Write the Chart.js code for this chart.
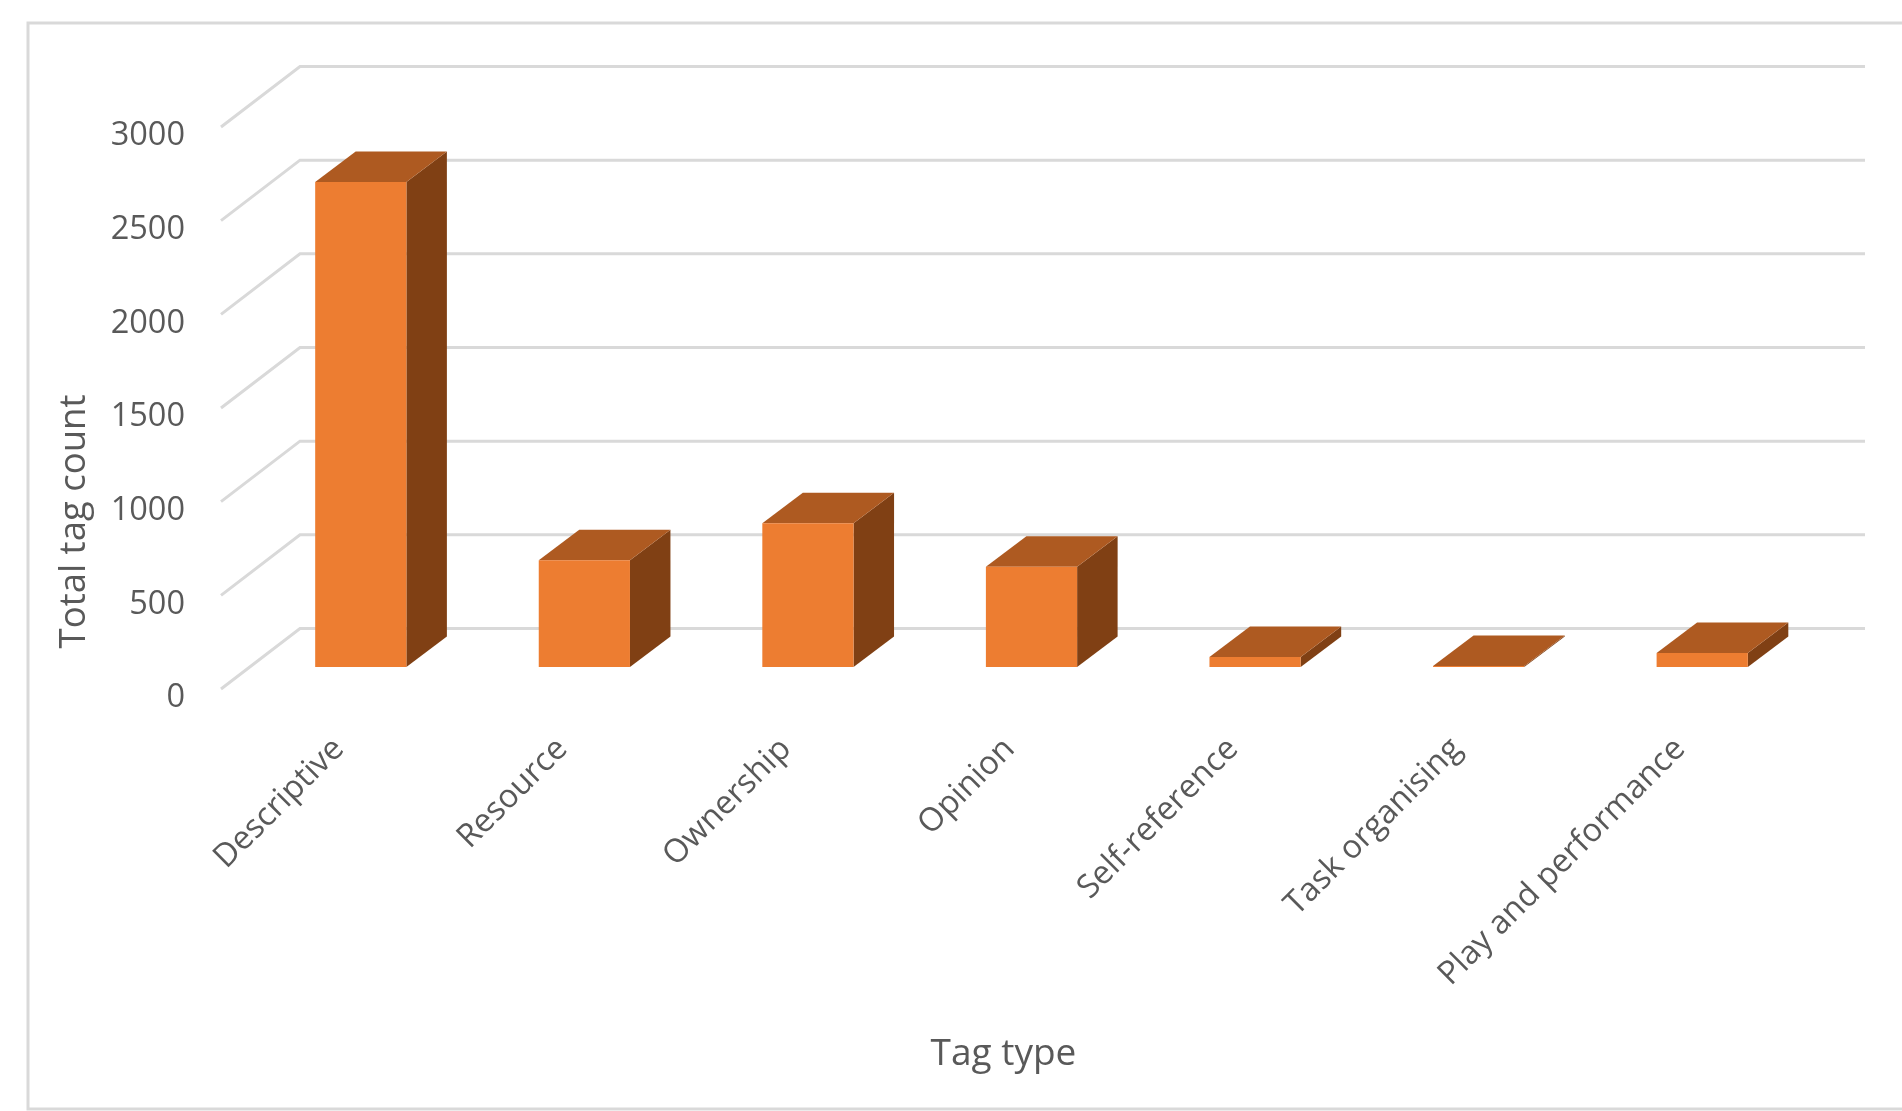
<!DOCTYPE html>
<html>
<head>
<meta charset="utf-8">
<title>Total tag count by tag type</title>
<script src="https://cdn.jsdelivr.net/npm/chart.js@4"></script>
<style>
    html, body { margin: 0; padding: 0; background: #ffffff; overflow: hidden; }
    canvas { display: block; }
</style>
</head>
<body>
<canvas id="tagChart" width="1902" height="1111"></canvas>
<script>
const categories = ['Descriptive', 'Resource', 'Ownership', 'Opinion', 'Self-reference', 'Task organising', 'Play and performance'];
const tagCounts = [2589, 570, 768, 535, 54, 5, 75];
const valueTicks = [0, 500, 1000, 1500, 2000, 2500, 3000];

const FONT = '"Open Sans", sans-serif';
const TEXT = '#595959';
const GRID = '#d9d9d9';
const FRONT = '#ed7d31';
const TOP = '#ae5a21';
const SIDE = '#804014';

// fake 3d: floor depth, where the bars stand on the floor, depth of a bar
const floorDepth = { x: 79, y: 60.5 };
const barShift = { x: 28, y: 22 };
const barDepth = { x: 40.5, y: 30.5 };

function poly(ctx, pts, color) {
    ctx.fillStyle = color;
    ctx.beginPath();
    pts.forEach((p, i) => i ? ctx.lineTo(p[0], p[1]) : ctx.moveTo(p[0], p[1]));
    ctx.closePath();
    ctx.fill();
}

const frame3d = {
    id: 'frame3d',
    beforeDatasetsDraw(chart) {
        const ctx = chart.ctx;
        const area = chart.chartArea;
        const yScale = chart.scales.y;

        // outer border, open on the right
        ctx.save();
        ctx.strokeStyle = GRID;
        ctx.lineWidth = 3;
        ctx.beginPath();
        ctx.moveTo(1902, 23);
        ctx.lineTo(28, 23);
        ctx.lineTo(28, 1109);
        ctx.lineTo(1902, 1109);
        ctx.stroke();

        // side wall + back wall gridlines
        valueTicks.forEach(v => {
            const y = yScale.getPixelForValue(v);
            ctx.beginPath();
            ctx.moveTo(area.left, y);
            ctx.lineTo(area.left + floorDepth.x, y - floorDepth.y);
            ctx.lineTo(area.right + floorDepth.x, y - floorDepth.y);
            ctx.stroke();
        });

        // y axis title
        ctx.translate(75, 521.5);
        ctx.rotate(-Math.PI / 2);
        ctx.font = '36.5px ' + FONT;
        ctx.fillStyle = TEXT;
        ctx.textAlign = 'center';
        ctx.textBaseline = 'middle';
        ctx.fillText('Total tag count', 0, 0);
        ctx.restore();

        // the bars themselves are drawn by the library inside this translate
        ctx.save();
        ctx.translate(barShift.x, -barShift.y);
        chart.getDatasetMeta(0).data.forEach(bar => {
            const l = bar.x - bar.width / 2;
            const r = bar.x + bar.width / 2;
            const dx = barDepth.x;
            const dy = barDepth.y;
            poly(ctx, [[r, bar.y], [r + dx, bar.y - dy], [r + dx, bar.base - dy], [r, bar.base]], SIDE);
            poly(ctx, [[l, bar.y], [l + dx, bar.y - dy], [r + dx, bar.y - dy], [r, bar.y]], TOP);
        });
    },
    afterDatasetsDraw(chart) {
        chart.ctx.restore();
    }
};

new Chart(document.getElementById('tagChart'), {
    type: 'bar',
    plugins: [frame3d],
    data: {
        labels: categories,
        datasets: [{
            label: 'Total tag count',
            data: tagCounts,
            backgroundColor: FRONT,
            borderWidth: 0,
            barPercentage: 0.408,
            categoryPercentage: 1
        }]
    },
    options: {
        responsive: false,
        animation: false,
        devicePixelRatio: 1,
        layout: { padding: { left: 0, right: 116, top: 127, bottom: 34 } },
        plugins: {
            legend: { display: false },
            tooltip: { enabled: false }
        },
        scales: {
            x: {
                offset: true,
                afterFit(s) { s.height = 1111 - 689 - 34; },
                grid: { display: false },
                border: { display: false },
                title: {
                    display: true,
                    text: 'Tag type',
                    color: TEXT,
                    font: { family: FONT, size: 37 },
                    padding: 0
                },
                ticks: {
                    autoSkip: false,
                    minRotation: 45,
                    maxRotation: 45,
                    padding: 33,
                    labelOffset: 6,
                    color: TEXT,
                    font: { family: FONT, size: 32.5 }
                }
            },
            y: {
                min: 0,
                max: 3000,
                afterFit(s) { s.width = 221; },
                afterBuildTicks(s) { s.ticks = valueTicks.map(v => ({ value: v })); },
                grid: { display: false },
                border: { display: false },
                ticks: {
                    padding: 28,
                    labelOffset: 9,
                    color: TEXT,
                    font: { family: FONT, size: 32.5 },
                    callback: v => String(v)
                }
            }
        }
    }
});
</script>
</body>
</html>
